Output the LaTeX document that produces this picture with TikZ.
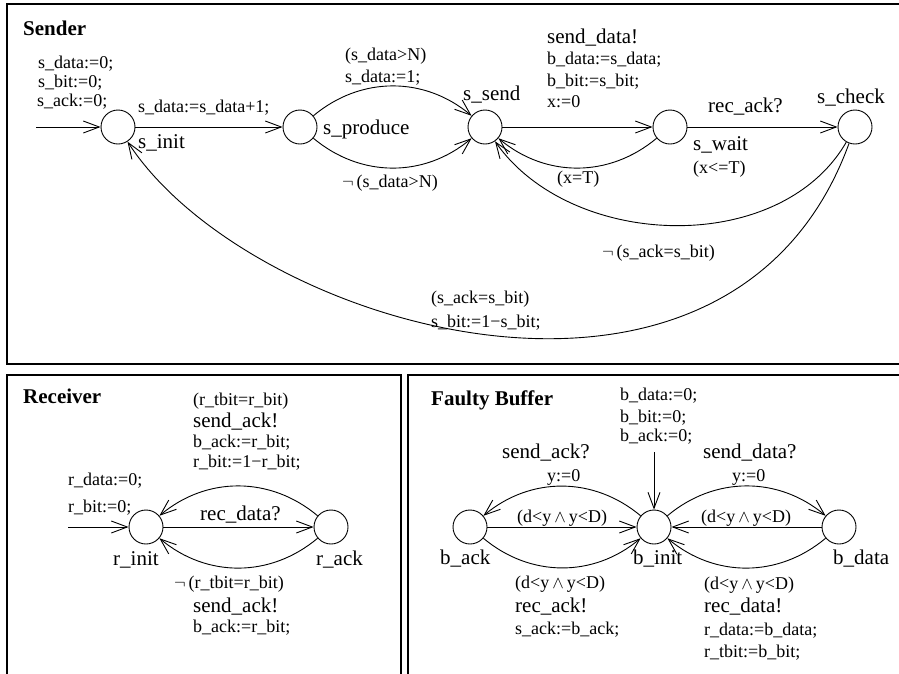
\documentclass[tikz,border=0pt]{standalone}
\usepackage{fontspec}
\setmainfont{Liberation Serif}
\usetikzlibrary{arrows.meta}
\newcommand{\myneg}{$\neg$\,}
\begin{document}
\begin{tikzpicture}[x=1pt,y=1pt,
  st/.style={circle,draw,minimum size=34pt,inner sep=0pt,line width=0.9pt},
  sm/.style={font=\fontsize{18}{19}\selectfont,inner sep=0pt,anchor=base west},
  lg/.style={font=\fontsize{21}{22}\selectfont,inner sep=0pt,anchor=base west},
  ttl/.style={font=\fontsize{21}{22}\selectfont\bfseries,inner sep=0pt,anchor=base west},
  edge/.style={-{Straight Barb[length=16pt,width=12pt]},line width=0.9pt},
  frame/.style={line width=1.6pt}]
\useasboundingbox (0,0) rectangle (899,-673);
\clip (0,0) rectangle (899,-673);
% frames
\draw[frame] (7,-4) rectangle (900,-364);
\draw[frame] (7,-375) rectangle (401,-700);
\draw[frame] (408,-375) rectangle (900,-700);

% ---------------- Sender ----------------
\node[ttl] (tsender) at (23,-35) {Sender};
\node[st] (sinit) at (118,-127) {};
\node[st] (sproduce) at (300,-127) {};
\node[st] (ssend) at (485,-127) {};
\node[st] (swait) at (670,-127) {};
\node[st] (scheck) at (855,-127) {};
\coordinate (sstart) at (36,-127);

\node[sm] (i1) at (38,-68) {s\_data:=0;};
\node[sm] (i2) at (38,-87) {s\_bit:=0;};
\node[sm] (i3) at (37,-106) {s\_ack:=0;};
\node[sm] (a1) at (138,-112) {s\_data:=s\_data+1;};
\node[lg] (n1) at (138,-148) {s\_init};
\node[sm] (a2) at (345,-60) {(s\_data>N)};
\node[sm] (a3) at (345,-82) {s\_data:=1;};
\node[lg] (n2) at (323,-134) {s\_produce};
\node[sm] (a4) at (342,-187) {\myneg(s\_data>N)};
\node[lg] (n3) at (463,-100) {s\_send};
\node[lg] (a5) at (547,-43) {send\_data!};
\node[sm] (a6) at (547,-64) {b\_data:=s\_data;};
\node[sm] (a7) at (547,-86) {b\_bit:=s\_bit;};
\node[sm] (a8) at (547,-107) {x:=0};
\node[lg] (a9) at (708,-112) {rec\_ack?};
\node[lg] (n4) at (693,-150) {s\_wait};
\node[sm] (a10) at (693,-173) {(x<=T)};
\node[lg] (n5) at (817,-103) {s\_check};
\node[sm] (a11) at (557,-183) {(x=T)};
\node[sm] (a12) at (602,-257) {\myneg(s\_ack=s\_bit)};
\node[sm] (a13) at (431,-303) {(s\_ack=s\_bit)};
\node[sm] (a14) at (431,-327) {s\_bit:=1−s\_bit;};

\draw[edge] (sstart) -- (sinit);
\draw[edge] (sinit) -- (sproduce);
\draw[edge] (sproduce) to[bend left=40] (ssend);
\draw[edge] (sproduce) to[bend right=40] (ssend);
\draw[edge] (ssend) -- (swait);
\draw[edge] (swait) -- (scheck);
\draw[edge] (swait) to[bend left=40] (ssend);
\draw[edge] (scheck) .. controls +(240:150) and +(305:150) .. (ssend);
\draw[edge] (scheck) .. controls +(250:365) and +(303:240) .. (sinit);

% ---------------- Receiver ----------------
\node[ttl] (trecv) at (23,-403) {Receiver};
\node[st] (rinit) at (146,-527) {};
\node[st] (rack) at (331,-527) {};
\coordinate (rstart) at (68,-527);
\node[sm] (r1) at (193,-405) {(r\_tbit=r\_bit)};
\node[lg] (r2) at (193,-427) {send\_ack!};
\node[sm] (r3) at (193,-447) {b\_ack:=r\_bit;};
\node[sm] (r4) at (193,-467) {r\_bit:=1−r\_bit;};
\node[sm] (r5) at (68,-485) {r\_data:=0;};
\node[sm] (r6) at (68,-512) {r\_bit:=0;};
\node[lg] (r7) at (200,-520) {rec\_data?};
\node[lg] (n6) at (113,-565) {r\_init};
\node[lg] (n7) at (316,-565) {r\_ack};
\node[sm] (r8) at (174,-588) {\myneg(r\_tbit=r\_bit)};
\node[lg] (r9) at (193,-612) {send\_ack!};
\node[sm] (r10) at (193,-632) {b\_ack:=r\_bit;};

\draw[edge] (rstart) -- (rinit);
\draw[edge] (rinit) -- (rack);
\draw[edge] (rack) to[bend right=40] (rinit);
\draw[edge] (rack) to[bend left=40] (rinit);

% ---------------- Faulty Buffer ----------------
\node[ttl] (tbuf) at (431,-405) {Faulty Buffer};
\node[st] (back) at (470,-527) {};
\node[st] (binit) at (654,-527) {};
\node[st] (bdata) at (839,-527) {};
\coordinate (bstart) at (654,-452);
\node[sm] (f1) at (620,-400) {b\_data:=0;};
\node[sm] (f2) at (620,-422) {b\_bit:=0;};
\node[sm] (f3) at (620,-441) {b\_ack:=0;};
\node[lg] (f4) at (502,-458) {send\_ack?};
\node[sm] (f5) at (547,-481) {y:=0};
\node[sm] (f6) at (517,-522) {(d<y\,$\wedge$\,y<D)};
\node[lg] (n8) at (440,-564) {b\_ack};
\node[lg] (n9) at (633,-564) {b\_init};
\node[lg] (n10) at (833,-564) {b\_data};
\node[sm] (f7) at (515,-588) {(d<y\,$\wedge$\,y<D)};
\node[lg] (f8) at (515,-612) {rec\_ack!};
\node[sm] (f9) at (515,-634) {s\_ack:=b\_ack;};
\node[lg] (f10) at (703,-458) {send\_data?};
\node[sm] (f11) at (732,-481) {y:=0};
\node[sm] (f12) at (701,-522) {(d<y\,$\wedge$\,y<D)};
\node[sm] (f13) at (704,-589) {(d<y\,$\wedge$\,y<D)};
\node[lg] (f14) at (704,-612) {rec\_data!};
\node[sm] (f15) at (704,-635) {r\_data:=b\_data;};
\node[sm] (f16) at (704,-657) {r\_tbit:=b\_bit;};

\draw[edge] (bstart) -- (binit);
\draw[edge] (binit) to[bend right=40] (back);
\draw[edge] (back) -- (binit);
\draw[edge] (back) to[bend right=40] (binit);
\draw[edge] (binit) to[bend left=40] (bdata);
\draw[edge] (bdata) -- (binit);
\draw[edge] (bdata) to[bend left=40] (binit);
\end{tikzpicture}
\end{document}
